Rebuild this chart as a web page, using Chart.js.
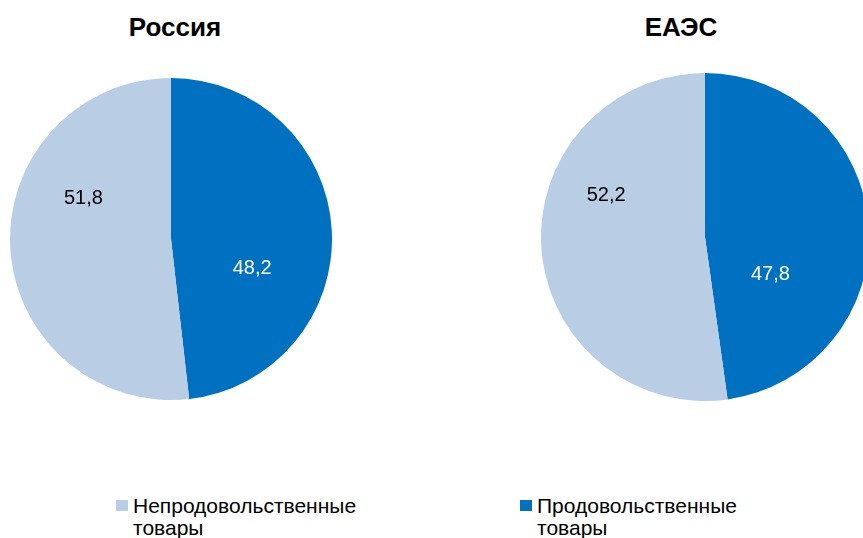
<!DOCTYPE html>
<html lang="ru">
<head>
<meta charset="utf-8">
<title>Структура товарооборота</title>
<script src="https://cdn.jsdelivr.net/npm/chart.js@4.4.1/dist/chart.umd.min.js"></script>
<style>
  html, body { margin: 0; padding: 0; width: 863px; height: 538px; overflow: hidden; background: #fff; }
  body { position: relative; font-family: "Liberation Sans", Arial, sans-serif; color: #000; }
  .pie-title { position: absolute; width: 300px; text-align: center; font-weight: bold; font-size: 26px; line-height: 30px; }
  .pie-canvas { position: absolute; }
  .legend-item { position: absolute; font-size: 21px; line-height: 22px; width: 250px; }
  .legend-box { position: absolute; left: 0; top: 5px; width: 12px; height: 11px; }
  .legend-text { margin-left: 17px; }
</style>
</head>
<body>

<div class="pie-title" id="title-ru" style="left:25px; top:12px;"></div>
<div class="pie-title" id="title-eaeu" style="left:531px; top:12px;"></div>

<canvas class="pie-canvas" id="pie-ru" width="322" height="322" style="left:10px; top:78px;"></canvas>
<canvas class="pie-canvas" id="pie-eaeu" width="328" height="328" style="left:541px; top:73px;"></canvas>

<div id="legend"></div>

<script>
(function () {
  "use strict";

  // ── Данные ───────────────────────────────────────────────────────────────
  const CATEGORIES   = ["Продовольственные товары", "Непродовольственные товары"];
  const RUSSIA       = [48.2, 51.8];
  const EAEU         = [47.8, 52.2];
  const CHART_TITLES = ["Россия", "ЕАЭС"];
  const LEGEND_ORDER = [1, 0];

  const COLORS      = ["#0070C0", "#B9CDE5"];
  const LABEL_COLOR = ["#ffffff", "#000000"];

  // положение подписей: угол от вершины по часовой, доля радиуса
  const LABEL_POS_RU   = [{ angle: 109.7, r: 0.535 }, { angle: 295, r: 0.60 }];
  const LABEL_POS_EAEU = [{ angle: 119.8, r: 0.46 },  { angle: 293, r: 0.655 }];

  const fmt = v => v.toFixed(1).replace(".", ",");

  // ── Подписи значений ─────────────────────────────────────────────────────
  const valueLabels = {
    id: "valueLabels",
    afterDatasetsDraw(chart, args, opts) {
      const ctx  = chart.ctx;
      const meta = chart.getDatasetMeta(0);
      const vals = chart.data.datasets[0].data;
      ctx.save();
      ctx.font = '20px "Liberation Sans", Arial, sans-serif';
      ctx.textAlign = "center";
      ctx.textBaseline = "middle";
      meta.data.forEach((arc, i) => {
        const pos = opts.positions[i];
        const a = (pos.angle - 90) * Math.PI / 180;
        const rr = arc.outerRadius * pos.r;
        ctx.fillStyle = LABEL_COLOR[i];
        ctx.fillText(fmt(vals[i]), arc.x + Math.cos(a) * rr, arc.y + Math.sin(a) * rr);
      });
      ctx.restore();
    }
  };

  function makePie(id, values, positions) {
    return new Chart(document.getElementById(id), {
      type: "pie",
      data: {
        labels: CATEGORIES,
        datasets: [{
          data: values,
          backgroundColor: COLORS,
          borderWidth: 0,
          hoverOffset: 0,
        }],
      },
      options: {
        responsive: false,
        animation: false,
        layout: { padding: 0 },
        events: [],
        plugins: {
          legend: { display: false },
          tooltip: { enabled: false },
          valueLabels: { positions },
        },
      },
      plugins: [valueLabels],
    });
  }

  document.getElementById("title-ru").textContent   = CHART_TITLES[0];
  document.getElementById("title-eaeu").textContent = CHART_TITLES[1];

  makePie("pie-ru", RUSSIA, LABEL_POS_RU);
  makePie("pie-eaeu", EAEU, LABEL_POS_EAEU);

  // ── Легенда ──────────────────────────────────────────────────────────────
  const legendLeft = [116, 520];
  const legendEl = document.getElementById("legend");
  legendEl.innerHTML = LEGEND_ORDER.map((idx, k) => `
    <div class="legend-item" style="left:${legendLeft[k]}px; top:495px;">
      <span class="legend-box" style="background:${COLORS[idx]};"></span>
      <div class="legend-text">${CATEGORIES[idx]}</div>
    </div>`).join("");
})();
</script>
</body>
</html>
